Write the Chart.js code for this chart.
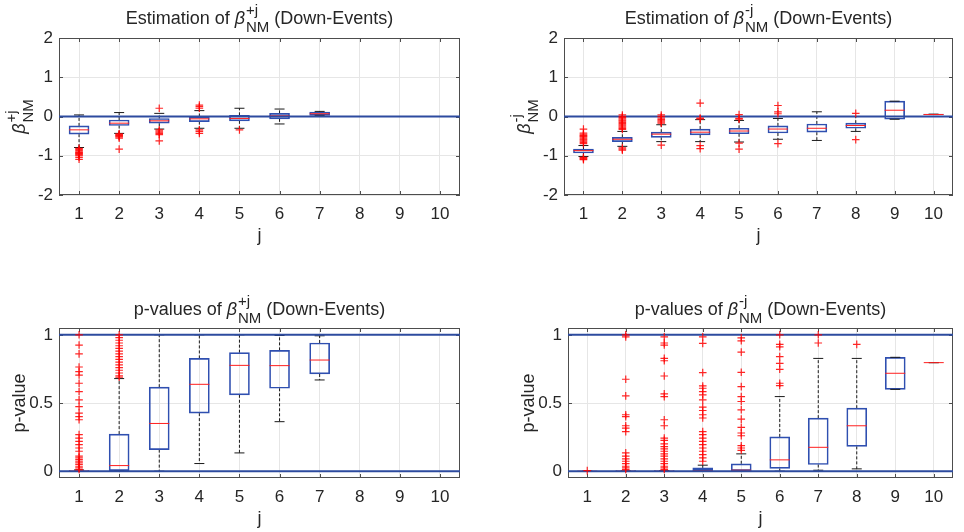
<!DOCTYPE html>
<html>
<head>
<meta charset="utf-8">
<script src="https://cdn.jsdelivr.net/npm/chart.js@4.4.0/dist/chart.umd.min.js"></script>
<style>
  html, body { margin: 0; padding: 0; background: #ffffff; }
  #fig { position: relative; width: 964px; height: 532px; overflow: hidden; background: #ffffff; }
  #fig canvas { position: absolute; }
</style>
</head>
<body>
<div id="fig">
  <canvas id="panelA" width="482" height="266" style="left:0px;top:0px"></canvas>
  <canvas id="panelB" width="482" height="266" style="left:482px;top:0px"></canvas>
  <canvas id="panelC" width="482" height="266" style="left:0px;top:266px"></canvas>
  <canvas id="panelD" width="482" height="266" style="left:482px;top:266px"></canvas>
</div>
<script>
// ---- lag index and tick labels ----
const jValues  = [1, 2, 3, 4, 5, 6, 7, 8, 9, 10];
const estTicks = [-2, -1, 0, 1, 2];
const pTicks   = [0, 0.5, 1];
const estRefLines = [0];
const pRefLines   = [0, 1];

// ---- Estimation of beta(+j), down-events: whisker ends, quartiles, median, outliers ----
const estPlusLo  = [-0.79, -0.43, -0.32, -0.30, -0.30, -0.19, 0.03, null, null, null];
const estPlusQ1  = [-0.45, -0.23, -0.17, -0.13, -0.11, -0.06, 0.03, null, null, null];
const estPlusMed = [-0.34, -0.17, -0.11, -0.06, -0.05, 0.02, 0.07, null, null, null];
const estPlusQ3  = [-0.24, -0.09, -0.05, 0.00, 0.03, 0.08, 0.11, null, null, null];
const estPlusHi  = [0.04, 0.10, 0.08, 0.15, 0.21, 0.19, 0.13, null, null, null];
const estPlusOut = [
  [-0.81, -0.84, -0.87, -0.90, -0.92, -0.94, -0.96, -0.98, -1.00, -1.04, -1.09],
  [-0.44, -0.46, -0.48, -0.50, -0.52, -0.55, -0.83],
  [0.21, -0.34, -0.37, -0.40, -0.43, -0.46, -0.62],
  [0.29, 0.25, 0.21, -0.34, -0.38, -0.43],
  [-0.34],
  [], [], [], [], []
];

// ---- Estimation of beta(-j), down-events ----
const estMinusLo  = [-1.02, -0.76, -0.64, -0.64, -0.65, -0.58, -0.61, -0.38, -0.07, 0.05];
const estMinusQ1  = [-0.93, -0.64, -0.53, -0.47, -0.44, -0.42, -0.40, -0.30, -0.07, 0.05];
const estMinusMed = [-0.87, -0.58, -0.45, -0.40, -0.37, -0.32, -0.30, -0.23, 0.16, 0.05];
const estMinusQ3  = [-0.83, -0.53, -0.40, -0.32, -0.30, -0.24, -0.19, -0.17, 0.39, 0.06];
const estMinusHi  = [-0.74, -0.38, -0.21, -0.08, -0.10, -0.05, 0.12, 0.00, 0.39, 0.06];
const estMinusOut = [
  [-0.32, -0.42, -0.45, -0.48, -0.50, -0.52, -0.55, -0.58, -0.60, -0.63, -0.66, -0.69, -1.04, -1.06, -1.08, -1.10],
  [0.04, 0.00, -0.03, -0.06, -0.09, -0.12, -0.15, -0.18, -0.21, -0.24, -0.27, -0.30, -0.33, -0.80, -0.83, -0.86],
  [0.04, 0.00, -0.04, -0.08, -0.11, -0.14, -0.17, -0.73],
  [0.34, -0.04, -0.06, -0.74, -0.82],
  [0.05, -0.05, -0.07, -0.68, -0.83],
  [0.28, 0.12, 0.07, -0.69],
  [],
  [0.08, -0.59],
  [], []
];

// ---- p-values of beta(+j), down-events ----
const pPlusLo  = [0, 0, 0, 0.056, 0.134, 0.363, 0.669, null, null, null];
const pPlusQ1  = [0, 0, 0.158, 0.426, 0.560, 0.608, 0.713, null, null, null];
const pPlusMed = [0.001, 0.041, 0.350, 0.637, 0.776, 0.774, 0.815, null, null, null];
const pPlusQ3  = [0.004, 0.272, 0.616, 0.827, 0.869, 0.886, 0.940, null, null, null];
const pPlusHi  = [0.009, 0.679, 1.000, 1.000, 1.000, 0.995, 0.993, null, null, null];
const pPlusOut = [
  [1.0, 0.925, 0.86, 0.764, 0.73, 0.705, 0.645, 0.584, 0.523, 0.474, 0.426, 0.40, 0.377,
   0.268, 0.243, 0.219, 0.195, 0.17, 0.146, 0.11, 0.097, 0.085, 0.073, 0.061, 0.049, 0.036, 0.024, 0.012],
  [0.69, 0.70, 0.72, 0.74, 0.76, 0.78, 0.80, 0.82, 0.84, 0.86, 0.88, 0.90, 0.92, 0.94, 0.96, 0.98, 1.0],
  [], [], [], [], [], [], [], []
];

// ---- p-values of beta(-j), down-events ----
const pMinusLo  = [0, 0, 0, 0, 0, 0, 0.007, 0.017, 0.600, 0.796];
const pMinusQ1  = [0, 0, 0, 0, 0, 0.020, 0.049, 0.182, 0.600, 0.796];
const pMinusMed = [0, 0, 0, 0.003, 0.007, 0.083, 0.175, 0.333, 0.718, 0.796];
const pMinusQ3  = [0, 0.001, 0.002, 0.024, 0.054, 0.251, 0.389, 0.462, 0.835, 0.796];
const pMinusHi  = [0, 0.002, 0.005, 0.044, 0.127, 0.547, 0.827, 0.827, 0.835, 0.796];
const pMinusOut = [
  [0.004],
  [1.0, 0.985, 0.674, 0.552, 0.414, 0.40, 0.333, 0.316, 0.29, 0.134, 0.11, 0.09, 0.073, 0.056, 0.036, 0.024, 0.012],
  [0.985, 0.94, 0.925, 0.827, 0.81, 0.698, 0.567, 0.547, 0.377, 0.333, 0.243, 0.226, 0.20, 0.18, 0.163,
   0.146, 0.127, 0.11, 0.09, 0.073, 0.056, 0.036, 0.024, 0.012],
  [0.985, 0.937, 0.723, 0.625, 0.608, 0.584, 0.56, 0.523, 0.47, 0.445, 0.414, 0.39, 0.29, 0.268, 0.243,
   0.219, 0.195, 0.17, 0.146, 0.122, 0.097, 0.073],
  [0.978, 0.956, 0.873, 0.725, 0.62, 0.547, 0.511, 0.45, 0.382, 0.321, 0.28, 0.26, 0.187, 0.17, 0.153],
  [1.0, 0.93, 0.912, 0.84, 0.79, 0.747, 0.645, 0.628],
  [1.0, 0.94],
  [0.93],
  [], []
];

// ---- styling ----
const FONT = '"Liberation Sans", Arial, Helvetica, sans-serif';
const TEXT = '#262626';
const FRAME = '#4d4d4d';
const GRID = '#e6e6e6';
const BOX = '#2f4fb0';
const MEDIAN = '#ff1f1f';
const WHISKER = '#1a1a1a';
const OUTLIER = 'rgba(255,0,0,0.85)';
const REF = '#2d4b9f';
const TICK_LEN = 4;
const TICK_FONT = 17;
const LABEL_FONT = 18;

Chart.defaults.font.family = FONT;
Chart.defaults.color = TEXT;

// Text "pre β^{sup}_{NM} post" with the super/subscripts stacked after beta
function drawBetaText(ctx, pre, sup, post, cx, baseY, size) {
  const fMain = size + 'px ' + FONT;
  const fBeta = 'italic ' + size + 'px ' + FONT;
  const fSmall = Math.round(size * 0.82) + 'px ' + FONT;
  ctx.font = fMain;
  const wPre = ctx.measureText(pre).width;
  const wPost = ctx.measureText(post).width;
  ctx.font = fBeta;
  const wB = ctx.measureText('\u03B2').width;
  ctx.font = fSmall;
  const wS = Math.max(ctx.measureText(sup).width, ctx.measureText('NM').width);
  const total = wPre + wB + 1 + wS + wPost;
  let x = cx - total / 2;
  ctx.textAlign = 'left';
  ctx.textBaseline = 'alphabetic';
  ctx.font = fMain;  ctx.fillText(pre, x, baseY); x += wPre;
  ctx.font = fBeta;  ctx.fillText('\u03B2', x, baseY); x += wB + 1;
  ctx.font = fSmall;
  ctx.fillText(sup, x, baseY - size * 0.5);
  ctx.fillText('NM', x, baseY + size * 0.42);
  x += wS;
  ctx.font = fMain;  ctx.fillText(post, x, baseY);
}

// Axes box, inward tick marks on all four sides, titles and axis labels
const axesDecor = {
  id: 'axesDecor',
  beforeDatasetsDraw(chart) {
    const { ctx, chartArea: a, scales: { x, y } } = chart;
    ctx.save();
    ctx.strokeStyle = FRAME;
    ctx.lineWidth = 1;
    ctx.beginPath();
    x.ticks.forEach(t => {
      const px = Math.round(x.getPixelForValue(t.value)) + 0.5;
      ctx.moveTo(px, a.bottom); ctx.lineTo(px, a.bottom - TICK_LEN);
      ctx.moveTo(px, a.top);    ctx.lineTo(px, a.top + TICK_LEN);
    });
    y.ticks.forEach(t => {
      const py = Math.round(y.getPixelForValue(t.value)) + 0.5;
      ctx.moveTo(a.left, py);  ctx.lineTo(a.left + TICK_LEN, py);
      ctx.moveTo(a.right, py); ctx.lineTo(a.right - TICK_LEN, py);
    });
    ctx.stroke();
    ctx.strokeRect(Math.round(a.left) + 0.5, Math.round(a.top) + 0.5,
                   Math.round(a.right - a.left) - 1, Math.round(a.bottom - a.top) - 1);
    ctx.restore();
  },
  afterDraw(chart, args, o) {
    const { ctx, chartArea: a } = chart;
    ctx.save();
    ctx.fillStyle = TEXT;
    const cx = (a.left + a.right) / 2;
    const cy = (a.top + a.bottom) / 2;
    // title
    drawBetaText(ctx, o.titlePre, o.sup, ' (Down-Events)', cx, a.top - o.titleGap, LABEL_FONT);
    // x label
    ctx.font = LABEL_FONT + 'px ' + FONT;
    ctx.textAlign = 'center';
    ctx.textBaseline = 'alphabetic';
    ctx.fillText('j', cx, a.bottom + 46);
    // y label
    ctx.translate(a.left - 39, cy);
    ctx.rotate(-Math.PI / 2);
    if (o.yText) {
      ctx.font = LABEL_FONT + 'px ' + FONT;
      ctx.textAlign = 'center';
      ctx.textBaseline = 'middle';
      ctx.fillText(o.yText, 0, 0);
    } else {
      drawBetaText(ctx, '', o.sup, '', 0, 5, LABEL_FONT);
    }
    ctx.restore();
  }
};

function makePanel(id, lo, q1, med, q3, hi, out, refs, yTicks, yMin, yMax, layout, decor) {
  const boxes = [], medians = [], caps = [], whiskers = [], points = [], refData = [];
  jValues.forEach((j, i) => {
    if (med[i] === null) return;
    boxes.push({ x: j, y: [q1[i], q3[i]] });
    medians.push({ x: j, y: med[i] });
    caps.push({ x: j, y: hi[i] }, { x: j, y: lo[i] });
    whiskers.push({ x: j, y: q3[i] }, { x: j, y: hi[i] }, { x: j, y: null },
                  { x: j, y: q1[i] }, { x: j, y: lo[i] }, { x: j, y: null });
    out[i].forEach(v => points.push({ x: j, y: v }));
  });
  refs.forEach(r => {
    refData.push({ x: 0.5, y: r }, { x: 10.5, y: r }, { x: 10.5, y: null });
  });

  new Chart(document.getElementById(id), {
    type: 'scatter',
    data: {
      datasets: [
        { type: 'line', data: whiskers, borderColor: WHISKER, borderWidth: 1, borderDash: [3, 2],
          pointRadius: 0, spanGaps: false, order: 6 },
        { type: 'bar', data: boxes, backgroundColor: 'rgba(0,0,0,0)', borderColor: BOX, borderWidth: 1,
          borderSkipped: false, barThickness: 20, grouped: false, order: 5 },
        { type: 'scatter', data: caps, pointStyle: 'line', pointRadius: 5, borderColor: WHISKER,
          borderWidth: 1, order: 4 },
        { type: 'scatter', data: medians, pointStyle: 'line', pointRadius: 10, borderColor: MEDIAN,
          borderWidth: 1, order: 3 },
        { type: 'line', data: refData, borderColor: REF, borderWidth: 2, pointRadius: 0,
          spanGaps: false, order: 2 },
        { type: 'scatter', data: points, pointStyle: 'cross', pointRadius: 3.8, borderColor: OUTLIER,
          borderWidth: 1.2, order: 1 }
      ]
    },
    options: {
      responsive: false,
      animation: false,
      events: [],
      layout: { padding: { left: 0, top: layout.top, right: layout.right, bottom: 0 } },
      plugins: { legend: { display: false }, tooltip: { enabled: false }, axesDecor: decor },
      scales: {
        x: {
          type: 'linear', min: 0.5, max: 10.5, offset: false,
          afterBuildTicks: s => { s.ticks = jValues.map(v => ({ value: v })); },
          afterFit: s => { s.height = layout.xHeight; },
          grid: { color: GRID, drawTicks: false, offset: false },
          border: { display: false },
          ticks: { font: { size: TICK_FONT }, color: TEXT, padding: 9, maxRotation: 0,
                   callback: v => String(v) }
        },
        y: {
          type: 'linear', min: yMin, max: yMax,
          afterBuildTicks: s => { s.ticks = yTicks.map(v => ({ value: v })); },
          afterFit: s => { s.width = layout.yWidth; },
          grid: { color: GRID, drawTicks: false },
          border: { display: false },
          ticks: { font: { size: TICK_FONT }, color: TEXT, padding: 6, callback: v => String(v) }
        }
      }
    },
    plugins: [axesDecor]
  });
}

makePanel('panelA', estPlusLo, estPlusQ1, estPlusMed, estPlusQ3, estPlusHi, estPlusOut,
  estRefLines, estTicks, -2, 2,
  { top: 38, right: 22, xHeight: 71, yWidth: 59 },
  { titlePre: 'Estimation of ', sup: '+j', titleGap: 14 });

makePanel('panelB', estMinusLo, estMinusQ1, estMinusMed, estMinusQ3, estMinusHi, estMinusOut,
  estRefLines, estTicks, -2, 2,
  { top: 38, right: 6, xHeight: 71, yWidth: 82 },
  { titlePre: 'Estimation of ', sup: '-j', titleGap: 14 });

makePanel('panelC', pPlusLo, pPlusQ1, pPlusMed, pPlusQ3, pPlusHi, pPlusOut,
  pRefLines, pTicks, -0.05, 1.05,
  { top: 62, right: 22, xHeight: 54, yWidth: 59 },
  { titlePre: 'p-values of ', sup: '+j', titleGap: 13, yText: 'p-value' });

makePanel('panelD', pMinusLo, pMinusQ1, pMinusMed, pMinusQ3, pMinusHi, pMinusOut,
  pRefLines, pTicks, -0.05, 1.05,
  { top: 62, right: 6, xHeight: 54, yWidth: 86 },
  { titlePre: 'p-values of ', sup: '-j', titleGap: 13, yText: 'p-value' });
</script>
</body>
</html>
